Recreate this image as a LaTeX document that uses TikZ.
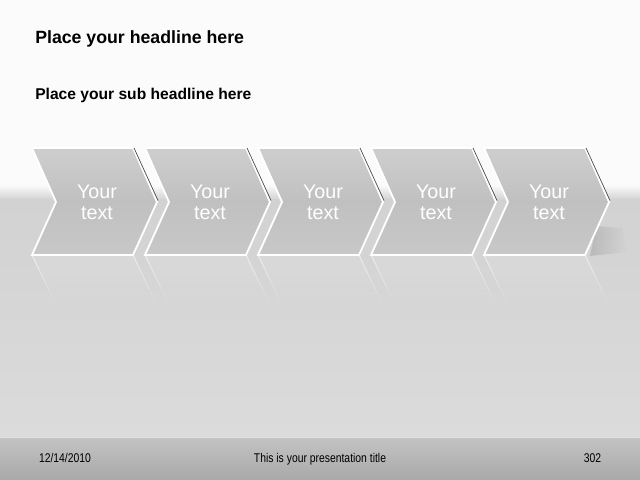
\documentclass[tikz,border=0pt]{standalone}
\usepackage{fontspec}
\setmainfont{Liberation Sans}
\usepackage{tikz}
\usetikzlibrary{fadings}
\definecolor{slidetop}{HTML}{FBFBFB}
\definecolor{floorhi}{HTML}{D2D2D2}
\definecolor{floorlo}{HTML}{DBDBDB}
\definecolor{foottop}{HTML}{C3C3C3}
\definecolor{footbot}{HTML}{A9A9A9}
\definecolor{chevtop}{HTML}{CECECE}
\definecolor{chevmid}{HTML}{C0C0C0}
\definecolor{chevbot}{HTML}{C8C8C8}
\tikzset{
  chev/.style = {draw=white, line width=1.3pt, top color=chevtop, bottom color=chevbot, middle color=chevmid},
  chevedge/.style = {draw=black!70, line width=0.5pt},
  mirror/.style = {draw=white, line width=0.7pt, fill=white, fill opacity=0.12, draw opacity=0.6, path fading=south},
  yourtext/.style = {text=white, font=\fontsize{14}{15}\selectfont, align=center},
  headline/.style = {anchor=base west, font=\bfseries\fontsize{12.6}{14}\selectfont},
  subheadline/.style = {anchor=base west, font=\bfseries\fontsize{11.1}{13}\selectfont},
  foottext/.style = {anchor=base, font=\fontsize{9}{10}\selectfont}
}
\begin{document}
\begin{tikzpicture}[x=0.025cm, y=-0.025cm]
            \useasboundingbox (0,0) rectangle (640,480);
            % background
            \fill [slidetop] (0,0) rectangle (640,186);
            \shade [top color=slidetop, bottom color=floorhi] (0,185) rectangle (640,200);
            \shade [top color=floorhi, bottom color=floorlo] (0,199.5) rectangle (640,437);
            \shade [top color=foottop, bottom color=footbot] (0,437) rectangle (640,480);
            \draw [white!88!black] (0,437)--(640,437);
            % shadow behind the last arrow
            \fill [black, opacity=0.12, path fading=east] (596,226)--(622,228)--(628,252)--(590,256)--cycle;
            % reflections
            \draw [mirror] (32,255)--(133,255)--(157,305)--(32,305)--(56,305)--cycle;
            \draw [mirror] (145,255)--(246,255)--(270,305)--(145,305)--(169,305)--cycle;
            \draw [mirror] (258,255)--(359,255)--(383,305)--(258,305)--(282,305)--cycle;
            \draw [mirror] (371,255)--(472,255)--(496,305)--(371,305)--(395,305)--cycle;
            \draw [mirror] (484,255)--(585,255)--(609,305)--(484,305)--(508,305)--cycle;
            % arrows
            \draw [chev] (32,148)--(133,148)--(157,202)--(133,255)--(32,255)--(56,202)--cycle;
            \draw [chevedge] (134,148)--(158,200.5);
            \draw [chev] (145,148)--(246,148)--(270,202)--(246,255)--(145,255)--(169,202)--cycle;
            \draw [chevedge] (247,148)--(271,200.5);
            \draw [chev] (258,148)--(359,148)--(383,202)--(359,255)--(258,255)--(282,202)--cycle;
            \draw [chevedge] (360,148)--(384,200.5);
            \draw [chev] (371,148)--(472,148)--(496,202)--(472,255)--(371,255)--(395,202)--cycle;
            \draw [chevedge] (473,148)--(497,200.5);
            \draw [chev] (484,148)--(585,148)--(609,202)--(585,255)--(484,255)--(508,202)--cycle;
            \draw [chevedge] (586,148)--(610,200.5);
            \node [yourtext] (text1) at (97,202) {Your\\text};
            \node [yourtext] (text2) at (210,202) {Your\\text};
            \node [yourtext] (text3) at (323,202) {Your\\text};
            \node [yourtext] (text4) at (436,202) {Your\\text};
            \node [yourtext] (text5) at (549,202) {Your\\text};
            % titles
            \node [headline, inner sep=0] (headline) at (35,43.5) {Place your headline here};
            \node [subheadline, inner sep=0] (subheadline) at (35,99) {Place your sub headline here};
            % footer
            \node [foottext] (date) at (65,462) {\scalebox{0.82}[1]{12/14/2010}};
            \node [foottext] (title) at (320,462) {\scalebox{0.82}[1]{This is your presentation title}};
            \node [foottext] (page) at (592.5,462) {\scalebox{0.82}[1]{302}};
        \end{tikzpicture}
\end{document}
